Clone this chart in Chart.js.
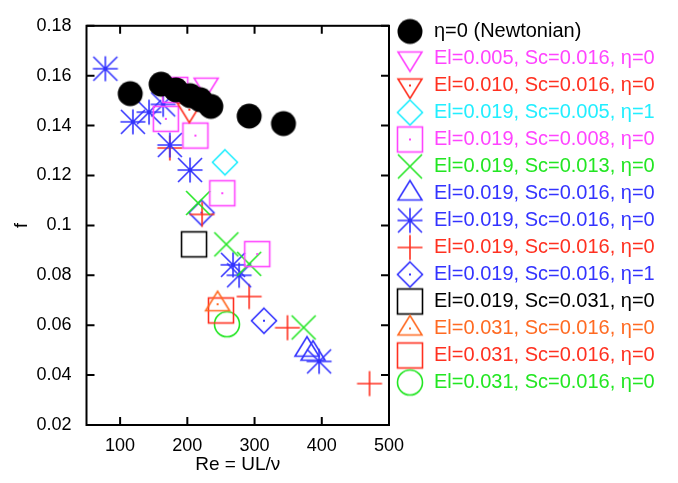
<!DOCTYPE html>
<html><head><meta charset="utf-8">
<script src="https://cdn.jsdelivr.net/npm/chart.js@4.4.1/dist/chart.umd.min.js"></script>
<style>html,body{margin:0;padding:0;background:#fff;}</style>
</head><body>
<canvas id="c" width="678" height="483"></canvas>
<script>
// ---- data ----
const seriesLabels = [
  "η=0 (Newtonian)",
  "El=0.005, Sc=0.016, η=0",
  "El=0.010, Sc=0.016, η=0",
  "El=0.019, Sc=0.005, η=1",
  "El=0.019, Sc=0.008, η=0",
  "El=0.019, Sc=0.013, η=0",
  "El=0.019, Sc=0.016, η=0",
  "El=0.019, Sc=0.016, η=0",
  "El=0.019, Sc=0.016, η=0",
  "El=0.019, Sc=0.016, η=1",
  "El=0.019, Sc=0.031, η=0",
  "El=0.031, Sc=0.016, η=0",
  "El=0.031, Sc=0.016, η=0",
  "El=0.031, Sc=0.016, η=0"
];
const reNewt = [115, 161, 183, 204, 219, 235, 292, 343];
const fNewt  = [0.1528, 0.1566, 0.1543, 0.1520, 0.1504, 0.1477, 0.1438, 0.1408];
const reEl005 = [228];
const fEl005  = [0.1564];
const reEl010 = [203];
const fEl010  = [0.1464];
const reSc005 = [256];
const fSc005  = [0.1253];
const reSc008 = [182, 168, 212, 252, 304];
const fSc008  = [0.1543, 0.1427, 0.1360, 0.1129, 0.0885];
const reSc013 = [216, 258, 292, 373];
const fSc013  = [0.1090, 0.0924, 0.0846, 0.0591];
const reTri   = [378, 387];
const fTri    = [0.0502, 0.0486];
const reStar  = [78, 119, 143, 164, 174, 204, 268, 277, 396];
const fStar   = [0.1628, 0.1415, 0.1454, 0.1485, 0.1322, 0.1222, 0.0842, 0.0800, 0.0455];
const rePlus  = [174, 222, 292, 349, 471];
const fPlus   = [0.1310, 0.1044, 0.0715, 0.0590, 0.0366];
const reEta1  = [221, 314];
const fEta1   = [0.1051, 0.0618];
const reSc031 = [210];
const fSc031  = [0.0924];
const reEl031a = [245];
const fEl031a  = [0.0684];
const reEl031b = [250];
const fEl031b  = [0.0659];
const reEl031c = [259];
const fEl031c  = [0.0604];
const xTicks = [100, 200, 300, 400, 500];
const yTicks = [0.02, 0.04, 0.06, 0.08, 0.1, 0.12, 0.14, 0.16, 0.18];

// ---- styles ----
const MAG = '#ff44ff', RED = '#ff3020', CYAN = '#22eeff', GREEN = '#22e622',
      BLUE = '#3333ff', ORANGE = '#ff6a22', BLACK = '#000000';
const FONT = '"Liberation Sans", Arial, Helvetica, sans-serif';

function marker(type, color, dot) {
  const s = 34, m = s / 2;
  const c = document.createElement('canvas');
  c.width = s; c.height = s;
  const g = c.getContext('2d');
  g.strokeStyle = color; g.fillStyle = color; g.lineWidth = 1.6;
  g.beginPath();
  switch (type) {
    case 'disc': g.arc(m, m, 12.5, 0, 2 * Math.PI); g.fill(); break;
    case 'circle': g.arc(m, m, 12.5, 0, 2 * Math.PI); g.stroke(); break;
    case 'tridown':
      g.moveTo(m - 12, m - 6.5); g.lineTo(m + 12, m - 6.5); g.lineTo(m, m + 13); g.closePath(); g.stroke(); break;
    case 'triup':
      g.moveTo(m - 12, m + 6.5); g.lineTo(m + 12, m + 6.5); g.lineTo(m, m - 13); g.closePath(); g.stroke(); break;
    case 'diamond':
      g.moveTo(m, m - 12.5); g.lineTo(m + 12.5, m); g.lineTo(m, m + 12.5); g.lineTo(m - 12.5, m); g.closePath(); g.stroke(); break;
    case 'square': g.strokeRect(m - 12.5, m - 12.5, 25, 25); break;
    case 'cross':
      g.moveTo(m - 12, m - 12); g.lineTo(m + 12, m + 12); g.moveTo(m + 12, m - 12); g.lineTo(m - 12, m + 12); g.stroke(); break;
    case 'plus':
      g.moveTo(m - 12.5, m); g.lineTo(m + 12.5, m); g.moveTo(m, m - 12.5); g.lineTo(m, m + 12.5); g.stroke(); break;
    case 'star':
      g.moveTo(m - 12.5, m); g.lineTo(m + 12.5, m); g.moveTo(m, m - 12.5); g.lineTo(m, m + 12.5);
      g.moveTo(m - 12, m - 12); g.lineTo(m + 12, m + 12); g.moveTo(m + 12, m - 12); g.lineTo(m - 12, m + 12); g.stroke();
      g.beginPath(); g.arc(m, m, 1.8, 0, 2 * Math.PI); g.fill(); break;
  }
  if (dot) { g.fillRect(m - 1, m - 1, 2, 2); }
  return c;
}

const pts = (xs, ys) => xs.map((x, i) => ({ x: x, y: ys[i] }));
const specs = [
  [reNewt, fNewt, 'disc', BLACK, false],
  [reEl005, fEl005, 'tridown', MAG, false],
  [reEl010, fEl010, 'tridown', RED, true],
  [reSc005, fSc005, 'diamond', CYAN, false],
  [reSc008, fSc008, 'square', MAG, true],
  [reSc013, fSc013, 'cross', GREEN, false],
  [reTri, fTri, 'triup', BLUE, false],
  [reStar, fStar, 'star', BLUE, false],
  [rePlus, fPlus, 'plus', RED, false],
  [reEta1, fEta1, 'diamond', BLUE, true],
  [reSc031, fSc031, 'square', BLACK, false],
  [reEl031a, fEl031a, 'triup', ORANGE, true],
  [reEl031b, fEl031b, 'square', RED, false],
  [reEl031c, fEl031c, 'circle', GREEN, false]
];
const textColors = specs.map(s => s[3]);
const datasets = specs.map((s, i) => ({
  label: seriesLabels[i],
  data: pts(s[0], s[1]),
  pointStyle: marker(s[2], s[3], s[4]),
  pointRadius: 12,
  backgroundColor: s[3],
  borderColor: s[3],
  showLine: false
}));

// legend geometry: keep the plot's right edge near x=389
const LFS = 20, LPAD = 7, LBOX = 28;
const mctx = document.createElement('canvas').getContext('2d');
mctx.font = LFS + 'px ' + FONT;
const maxW = Math.max(...seriesLabels.map(s => mctx.measureText(s).width));
const legendW = LPAD + LBOX + LFS / 2 + maxW + 10;
const padRight = Math.max(0, 678 - 389 - legendW);

const frame = {
  id: 'frame',
  afterDatasetsDraw(chart) {
    const { ctx, chartArea: a, scales: { x, y } } = chart;
    ctx.save();
    ctx.strokeStyle = '#000';
    ctx.lineWidth = 2;
    ctx.strokeRect(a.left, a.top, a.right - a.left, a.bottom - a.top);
    ctx.beginPath();
    const L = 8;
    x.ticks.forEach(t => {
      const p = x.getPixelForValue(t.value);
      ctx.moveTo(p, a.bottom); ctx.lineTo(p, a.bottom - L);
      ctx.moveTo(p, a.top); ctx.lineTo(p, a.top + L);
    });
    y.ticks.forEach(t => {
      const p = y.getPixelForValue(t.value);
      ctx.moveTo(a.left, p); ctx.lineTo(a.left + L, p);
      ctx.moveTo(a.right, p); ctx.lineTo(a.right - L, p);
    });
    ctx.stroke();
    ctx.restore();
  }
};

Chart.defaults.font.family = FONT;
Chart.defaults.color = '#000';

new Chart(document.getElementById('c'), {
  type: 'scatter',
  data: { datasets: datasets },
  plugins: [frame],
  options: {
    responsive: false,
    animation: false,
    events: [],
    layout: { padding: { top: 12, right: padRight, left: 0, bottom: 0 } },
    plugins: {
      tooltip: { enabled: false },
      legend: {
        position: 'right',
        align: 'start',
        maxWidth: 400,
        title: { display: true, text: '', padding: 0, font: { size: 10, lineHeight: '2.5px' } },
        labels: {
          usePointStyle: true,
          pointStyleWidth: LBOX,
          padding: LPAD,
          font: { size: LFS },
          generateLabels(chart) {
            const items = Chart.defaults.plugins.legend.labels.generateLabels(chart);
            items.forEach((it, i) => { it.fontColor = textColors[i]; });
            return items;
          }
        }
      }
    },
    scales: {
      x: {
        type: 'linear', min: 50, max: 500,
        grid: { display: false, drawTicks: false }, border: { display: false },
        afterBuildTicks(scale) { scale.ticks = xTicks.map(v => ({ value: v })); },
        afterFit(scale) { scale.height = 58; },
        ticks: { font: { size: 18 }, padding: 10, maxRotation: 0, callback: v => String(v) },
        title: { display: true, text: 'Re = UL/ν', font: { size: 19 }, padding: { top: 0, bottom: 7 } }
      },
      y: {
        type: 'linear', min: 0.02, max: 0.18,
        grid: { display: false, drawTicks: false }, border: { display: false },
        afterBuildTicks(scale) { scale.ticks = yTicks.map(v => ({ value: v })); },
        afterFit(scale) { scale.width = 86.5; },
        ticks: { font: { size: 18 }, padding: 15, callback: v => String(v) },
        title: { display: true, text: 'f', font: { size: 18 }, padding: { top: 11, bottom: 0 } }
      }
    }
  }
});
</script>
</body></html>
